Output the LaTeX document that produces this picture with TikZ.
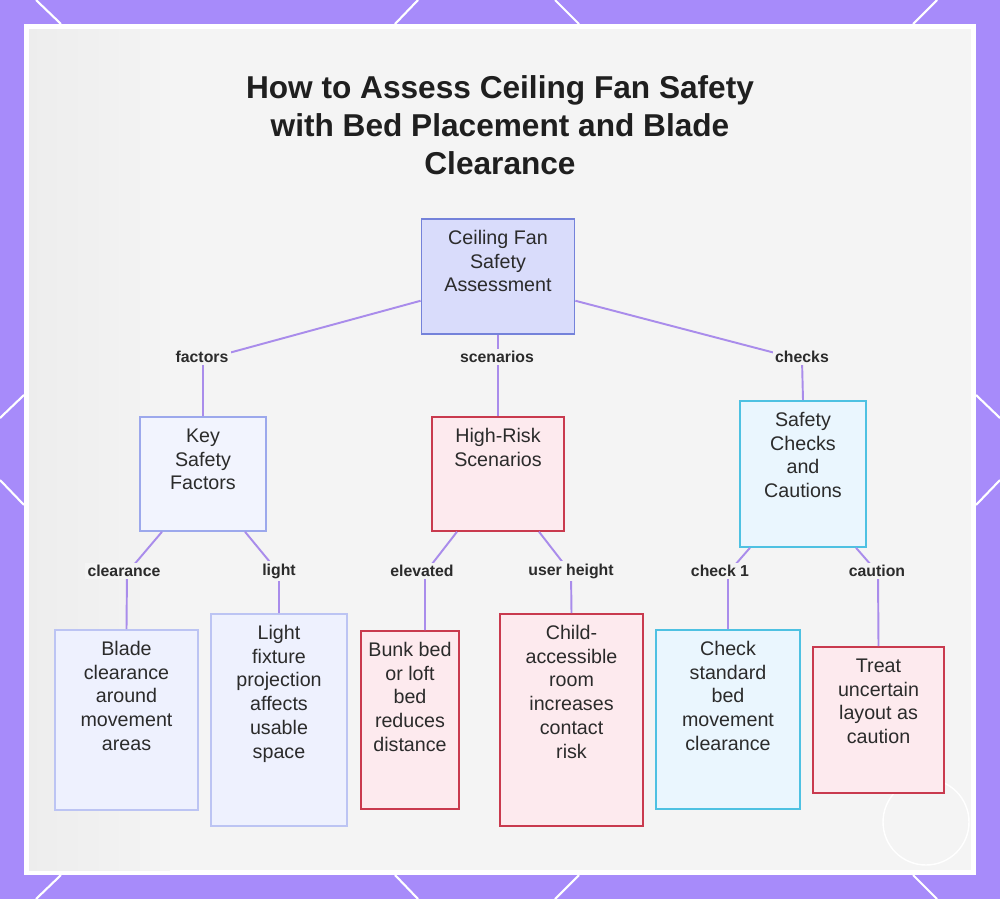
\documentclass[tikz,border=0pt]{standalone}
\usepackage{fontspec}
\setmainfont{Liberation Sans}
\usepackage{xcolor}
\usetikzlibrary{calc}

\definecolor{framepurple}{HTML}{A78BFA}
\definecolor{panelgray}{HTML}{F4F4F4}
\definecolor{edgepurple}{HTML}{A98CEB}
\definecolor{inktext}{HTML}{2B2B2B}
\definecolor{rootfill}{HTML}{D9DCFB}
\definecolor{rootline}{HTML}{7482DA}
\definecolor{keyfill}{HTML}{F2F4FE}
\definecolor{keyline}{HTML}{9CA8EC}
\definecolor{leaffill}{HTML}{EEF1FE}
\definecolor{leafline}{HTML}{BCC4F3}
\definecolor{riskfill}{HTML}{FDEAEE}
\definecolor{riskline}{HTML}{C93A4E}
\definecolor{checkfill}{HTML}{EAF6FE}
\definecolor{checkline}{HTML}{4EC1E2}

% one picture pixel
\newlength{\pxu}
\setlength{\pxu}{0.02cm}
% text set at the top of a fixed box
\newcommand{\boxtext}[3]{\parbox[t][#2\pxu][t]{#1\pxu}{\centering\vspace*{8.5\pxu}\strut#3}}

\begin{document}
\begin{tikzpicture}[x=0.02cm, y=-0.02cm,
    every node/.style={text=inktext},
    basebox/.style={rectangle, draw, line width=1pt, anchor=north, inner sep=0pt,
        font=\fontsize{11.2}{13.6}\selectfont},
    rootbox/.style={basebox, draw=rootline, fill=rootfill},
    keybox/.style={basebox, draw=keyline, fill=keyfill},
    leafbox/.style={basebox, draw=leafline, fill=leaffill},
    riskbox/.style={basebox, draw=riskline, fill=riskfill},
    checkbox/.style={basebox, draw=checkline, fill=checkfill},
    edge/.style={draw=edgepurple, line width=1.1pt},
    lbl/.style={font=\bfseries\fontsize{9}{10}\selectfont, fill=panelgray, inner sep=1.5pt}]

    % Frame and panel
    \useasboundingbox (0,0) rectangle (1000,899);
    \fill[framepurple] (0,0) rectangle (1000,899);
    \foreach \a/\b/\c/\d in {36/0/61/24, 418/0/395/24, 555/0/579/24, 937/0/913/24,
        61/875/36/899, 395/875/418/899, 579/875/555/899, 913/875/937/899,
        0/418/24/395, 0/480/24/505, 976/395/1000/418, 976/505/1000/480}
        \draw[white, line width=1.2pt] (\a,\b) -- (\c,\d);
    \fill[white] (24,24) rectangle (976,875);
    \fill[panelgray] (29,29) rectangle (971,870);
    \shade[left color=black!7, right color=panelgray] (29,29) rectangle (170,870);
    \draw[white, line width=0.8pt] (926,822) circle (43);

    % Title
    \node[font=\bfseries\fontsize{18}{21.5}\selectfont, align=center, text=black!88] (title)
        at (500,125) {How to Assess Ceiling Fan Safety\\with Bed Placement and Blade\\Clearance};

    % Boxes
    \node[rootbox] (root) at (498,218) {\boxtext{153}{115}{Ceiling Fan\\Safety\\Assessment}};

    \node[keybox] (factors) at (203,416) {\boxtext{126}{114}{Key\\Safety\\Factors}};
    \node[riskbox] (scenarios) at (498,416) {\boxtext{132}{114}{High-Risk\\Scenarios}};
    \node[checkbox] (checks) at (803,400) {\boxtext{126}{146}{Safety\\Checks\\and\\Cautions}};

    \node[leafbox] (blade) at (126.5,629) {\boxtext{143}{180}{Blade\\clearance\\around\\movement\\areas}};
    \node[leafbox] (light) at (279,613) {\boxtext{136}{212}{Light\\fixture\\projection\\affects\\usable\\space}};
    \node[riskbox] (bunk) at (410,630) {\boxtext{98}{178}{Bunk bed\\or loft\\bed\\reduces\\distance}};
    \node[riskbox] (child) at (571.5,613) {\boxtext{143}{212}{Child-\\accessible\\room\\increases\\contact\\risk}};
    \node[checkbox] (standard) at (728,629) {\boxtext{144}{179}{Check\\standard\\bed\\movement\\clearance}};
    \node[riskbox] (uncertain) at (878.5,646) {\boxtext{131}{146}{Treat\\uncertain\\layout as\\caution}};

    % Bend points
    \coordinate (bfactors) at (203,360);
    \coordinate (bchecks) at (802,360);
    \coordinate (bblade) at (127,573);
    \coordinate (blight) at (279,573);
    \coordinate (bbunk) at (425,573);
    \coordinate (bchild) at (571,573);
    \coordinate (bstandard) at (728,573);
    \coordinate (buncertain) at (878,573);

    % Connectors
    \draw[edge] ($(root.south west)+(0,-34)$) -- (bfactors) -- (factors.north);
    \draw[edge] (root.south) -- (scenarios.north);
    \draw[edge] ($(root.south east)+(0,-34)$) -- (bchecks) -- (checks.north);
    \draw[edge] ($(factors.south)+(-41,0)$) -- (bblade) -- (blade.north);
    \draw[edge] ($(factors.south)+(42,0)$) -- (blight) -- (light.north);
    \draw[edge] ($(scenarios.south)+(-41,0)$) -- (bbunk) -- ($(bunk.north)+(15,0)$);
    \draw[edge] ($(scenarios.south)+(41,0)$) -- (bchild) -- (child.north);
    \draw[edge] ($(checks.south)+(-53,0)$) -- (bstandard) -- (standard.north);
    \draw[edge] ($(checks.south)+(53,0)$) -- (buncertain) -- (uncertain.north);

    % Connector labels
    \node[lbl] (lfactors) at (202,357) {factors};
    \node[lbl] (lscenarios) at (497,357) {scenarios};
    \node[lbl] (lchecks) at (802,357) {checks};
    \node[lbl] (lblade) at (124,571) {clearance};
    \node[lbl] (llight) at (279,571) {light};
    \node[lbl] (lbunk) at (422,571) {elevated};
    \node[lbl] (lchild) at (571,571) {user height};
    \node[lbl] (lstandard) at (720,571) {check 1};
    \node[lbl] (luncertain) at (877,571) {caution};
\end{tikzpicture}
\end{document}
